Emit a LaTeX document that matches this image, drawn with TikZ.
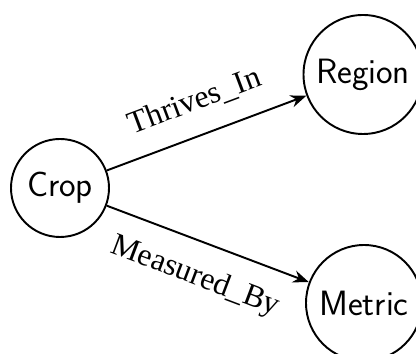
\documentclass[tikz,border=0pt]{standalone}
\usepackage{fontspec}
\newfontfamily\labelfont{Liberation Serif}
\usetikzlibrary{arrows.meta}
\begin{document}
\begin{tikzpicture}[
    entity/.style={circle, draw=black, line width=1.1pt, inner sep=0pt, font=\fontsize{20}{22}\selectfont\sffamily},
    relation/.style={-{Stealth[length=9pt, width=7pt]}, line width=1.1pt},
    rellabel/.style={midway, sloped, font=\fontsize{18}{20}\selectfont\labelfont},
    ]
    \useasboundingbox (0,0) rectangle (8.32,7.08);
    %Nodes
    \node[entity, minimum size=1.96cm] at (1.20, 3.32) (crop) {Crop};
    \node[entity, minimum size=2.38cm] at (7.26, 5.59) (region) {Region};
    \node[entity, minimum size=2.32cm] at (7.28, 1.02) (metric) {Metric};

    %Lines
    \draw[relation] (crop) -- node[rellabel, above=8pt] (thrives) {Thrives\_In} (region);
    \draw[relation] (crop) -- node[rellabel, below=8pt] (measured) {Measured\_By} (metric);
\end{tikzpicture}
\end{document}
